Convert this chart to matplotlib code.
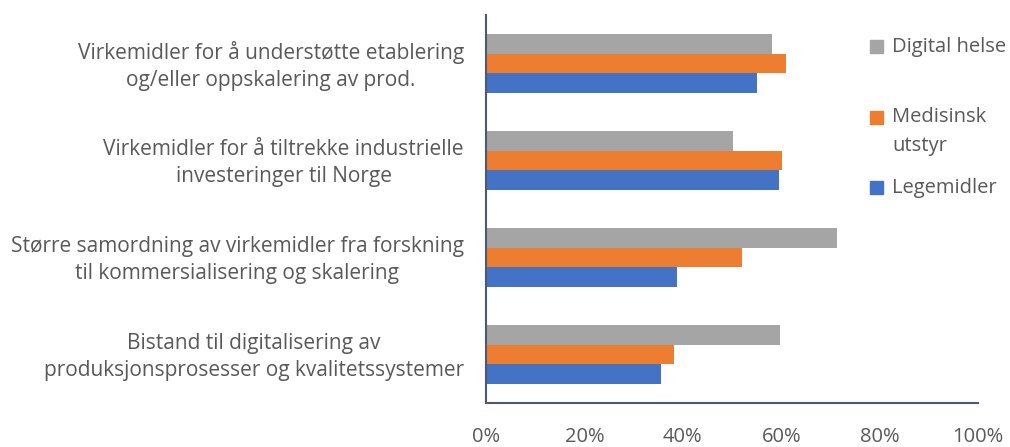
import matplotlib.pyplot as plt
import matplotlib.transforms as mtransforms
import numpy as np
from matplotlib.patches import Rectangle

# data
categories = [
    "Virkemidler for å understøtte etablering\nog/eller oppskalering av prod.",
    "Virkemidler for å tiltrekke industrielle\ninvesteringer til Norge",
    "Større samordning av virkemidler fra forskning\ntil kommersialisering og skalering",
    "Bistand til digitalisering av\nproduksjonsprosesser og kvalitetssystemer",
]
series_names = ["Digital helse", "Medisinsk\nutstyr", "Legemidler"]
digital_helse = [58.1, 50.2, 71.4, 59.8]
medisinsk_utstyr = [61.0, 60.2, 52.0, 38.3]
legemidler = [55.1, 59.6, 38.8, 35.6]
x_ticks = [0, 20, 40, 60, 80, 100]

colors = ["#A5A5A5", "#ED7D31", "#4472C4"]
text_color = "#595959"
spine_color = "#4D5A6E"

plt.rcParams['font.family'] = ['Open Sans', 'DejaVu Sans']

fig = plt.figure(figsize=(10.1, 4.47), dpi=100)
ax = fig.add_axes([0.4812, 0.0984, 0.4871, 0.868])

y = np.arange(len(categories))
h = 0.205
for i, vals in enumerate([digital_helse, medisinsk_utstyr, legemidler]):
    ax.barh(y + (i - 1) * h, vals, height=h, color=colors[i])

ax.set_xlim(0, 100)
ax.set_ylim(3.5, -0.5)
ax.set_xticks(x_ticks)
ax.set_xticklabels([f"{t}%" for t in x_ticks])
ax.set_yticks(y)
ax.set_yticklabels(categories)
ax.tick_params(axis='both', length=0, colors=text_color)
ax.tick_params(axis='x', pad=17, labelsize=14.5)
ax.tick_params(axis='y', pad=16, labelsize=15)
shift = mtransforms.ScaledTranslation(0, 3 / 100, fig.dpi_scale_trans)
for lbl in ax.get_yticklabels():
    lbl.set_multialignment('center')
    lbl.set_linespacing(1.4)
    lbl.set_transform(lbl.get_transform() + shift)

for s in ['top', 'right']:
    ax.spines[s].set_visible(False)
for s in ['left', 'bottom']:
    ax.spines[s].set_color(spine_color)
    ax.spines[s].set_linewidth(1.5)

# legend drawn by hand so the wrapped label lines up like the original
W, H = 1010, 447
leg_y = [47, 118, 188]
for name, c, yy in zip(series_names, colors, leg_y):
    fig.add_artist(Rectangle((870 / W, 1 - (yy + 6) / H), 13 / W, 13 / H,
                             color=c, transform=fig.transFigure))
    if '\n' in name:
        fig.text(892 / W, 1 - (yy - 11) / H, name, fontsize=14.5, color=text_color,
                 va='top', ha='left', linespacing=1.6)
    else:
        fig.text(892 / W, 1 - yy / H, name, fontsize=14.5, color=text_color,
                 va='center', ha='left')

fig.savefig("out.png", dpi=100)
